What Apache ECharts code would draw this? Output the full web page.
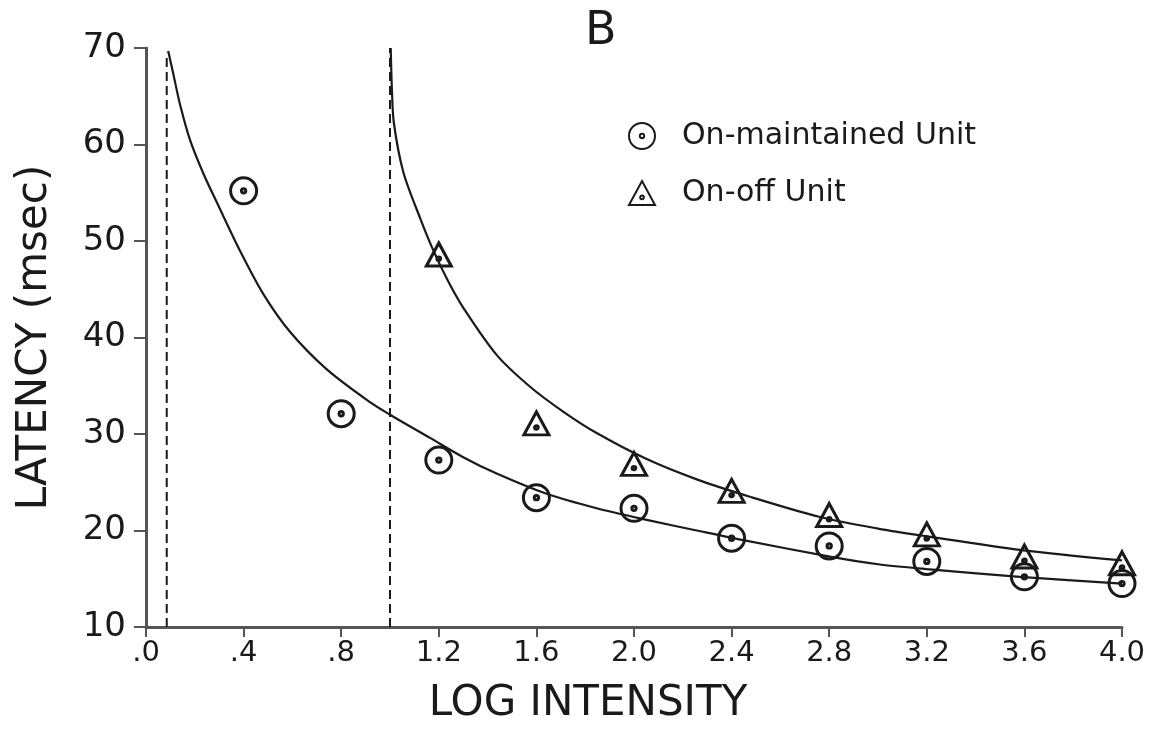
<!DOCTYPE html>
<html>
<head>
<meta charset="utf-8">
<script src="https://cdn.jsdelivr.net/npm/echarts@6/dist/echarts.min.js"></script>
<style>
  html, body { margin: 0; padding: 0; background: #fff; }
  #chart { width: 1154px; height: 730px; }
</style>
</head>
<body>
<div id="chart"></div>
<script>
// tick labels of the log-intensity axis
const xTickLabels = ['.0', '.4', '.8', '1.2', '1.6', '2.0', '2.4', '2.8', '3.2', '3.6', '4.0'];

// measured latencies
const onMaintained = [
  [0.4, 55.2], [0.8, 32.1], [1.2, 27.3], [1.6, 23.4], [2.0, 22.3],
  [2.4, 19.2], [2.8, 18.4], [3.2, 16.8], [3.6, 15.2], [4.0, 14.5]
];
const onOff = [
  [1.2, 48.6], [1.6, 31.1], [2.0, 26.9], [2.4, 24.1],
  [2.8, 21.6], [3.2, 19.6], [3.6, 17.3], [4.0, 16.6]
];

// hand-fitted curves
const curveOnMaintained = [
  [0.091, 69.7], [0.112, 67.3], [0.139, 64.2], [0.180, 60.5], [0.235, 57.0],
  [0.296, 53.7], [0.385, 49.0], [0.481, 44.5], [0.590, 40.6], [0.741, 36.7],
  [0.918, 33.3], [1.0, 32.0], [1.164, 29.6], [1.30, 27.6], [1.437, 25.9],
  [1.642, 23.8], [1.847, 22.3], [2.052, 21.1], [2.257, 20.0], [2.448, 19.0],
  [2.803, 17.3], [3.0, 16.5], [3.2, 16.0], [3.582, 15.2], [4.0, 14.5]
];
const curveOnOff = [
  [1.003, 70.0], [1.008, 65.6], [1.016, 62.2], [1.055, 57.1], [1.123, 52.4],
  [1.178, 49.0], [1.239, 45.8], [1.30, 43.1], [1.437, 38.2], [1.574, 34.9],
  [1.711, 32.3], [1.847, 30.1], [2.052, 27.4], [2.257, 25.3], [2.475, 23.5],
  [2.762, 21.4], [3.0, 20.2], [3.2, 19.4], [3.58, 18.0], [4.0, 16.9]
];

// asymptotes (dashed verticals)
const asymptoteA = [[0.085, 10], [0.085, 69.5]];
const asymptoteB = [[1.0, 10], [1.0, 70]];

const ink = '#1a1a1a';
const circleDot = 'path://M0,12A12,12 0 1,1 24,12A12,12 0 1,1 0,12Z M10,12A2,2 0 1,1 14,12A2,2 0 1,1 10,12Z';
const triangleDot = 'path://M12,0L24,22L0,22Z M10.3,15A1.7,1.7 0 1,1 13.7,15A1.7,1.7 0 1,1 10.3,15Z';
const font = "'DejaVu Sans', 'Liberation Sans', sans-serif";

const chart = echarts.init(document.getElementById('chart'));

const option = {
  backgroundColor: '#fff',
  animation: false,
  title: {
    text: 'B',
    left: 580,
    top: 4,
    textStyle: { fontSize: 46, fontWeight: 'normal', color: ink, fontFamily: font }
  },
  legend: {
    data: ['On-maintained Unit', 'On-off Unit'],
    orient: 'vertical',
    left: 623,
    top: 116,
    itemGap: 27,
    itemWidth: 26,
    itemHeight: 26,
    textStyle: { fontSize: 30, color: ink, fontFamily: font, padding: [0, 0, 0, 22] }
  },
  grid: { left: 146, right: 32, top: 48, bottom: 97 },
  xAxis: {
    type: 'value',
    min: 0,
    max: 4,
    interval: 0.4,
    name: 'LOG INTENSITY',
    nameLocation: 'middle',
    nameGap: 56,
    nameTextStyle: { fontSize: 42, color: ink, fontFamily: font, padding: [0, 92, 0, 0] },
    axisLine: { lineStyle: { color: '#555', width: 3 } },
    axisTick: { length: 10, lineStyle: { color: '#555', width: 2 } },
    axisLabel: {
      margin: 12,
      fontSize: 29,
      color: ink,
      fontFamily: font,
      formatter: v => xTickLabels[Math.round(v / 0.4)]
    },
    splitLine: { show: false }
  },
  yAxis: {
    type: 'value',
    min: 10,
    max: 70,
    interval: 10,
    name: 'LATENCY (msec)',
    nameLocation: 'middle',
    nameGap: 90,
    nameTextStyle: { fontSize: 42, color: ink, fontFamily: font },
    axisLine: { lineStyle: { color: '#555', width: 3 } },
    axisTick: { length: 12, lineStyle: { color: '#555', width: 2 } },
    axisLabel: { margin: 20, fontSize: 34, color: ink, fontFamily: font },
    splitLine: { show: false }
  },
  series: [
    {
      type: 'line', data: asymptoteA, showSymbol: false, silent: true,
      lineStyle: { color: ink, width: 2, type: [9, 5] }
    },
    {
      type: 'line', data: asymptoteB, showSymbol: false, silent: true,
      lineStyle: { color: ink, width: 2, type: [9, 5] }
    },
    {
      type: 'line', data: curveOnMaintained, showSymbol: false, smooth: 0.3,
      lineStyle: { color: ink, width: 2.2 }
    },
    {
      type: 'line', data: curveOnOff, showSymbol: false, smooth: 0.3,
      lineStyle: { color: ink, width: 2.2 }
    },
    {
      name: 'On-maintained Unit',
      type: 'scatter',
      data: onMaintained,
      symbol: circleDot,
      symbolSize: 26,
      itemStyle: { color: 'rgba(255,255,255,0)', borderColor: ink, borderWidth: 3, opacity: 1 },
      z: 5
    },
    {
      name: 'On-off Unit',
      type: 'scatter',
      data: onOff,
      symbol: triangleDot,
      symbolSize: [25, 23],
      itemStyle: { color: 'rgba(255,255,255,0)', borderColor: ink, borderWidth: 3, opacity: 1 },
      z: 5
    }
  ]
};

chart.setOption(option);
</script>
</body>
</html>
